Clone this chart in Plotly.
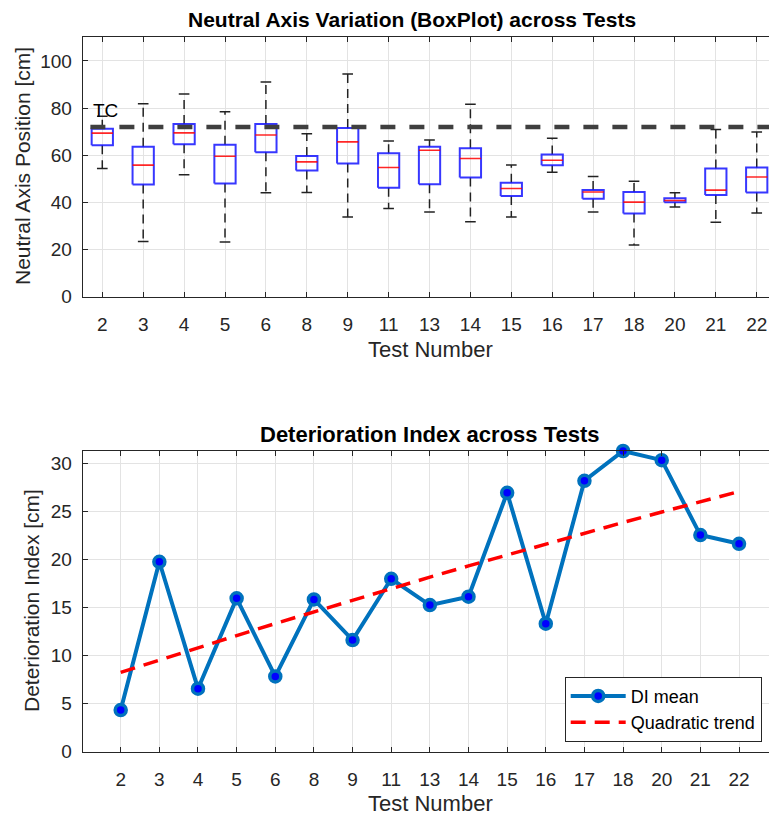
import plotly.graph_objects as go

# ---------------- data ----------------
tests = ["2", "3", "4", "5", "6", "8", "9", "11", "13", "14", "15", "16", "17", "18", "20", "21", "22"]
positions = list(range(1, len(tests) + 1))

upper_whisker = [76.6, 81.9, 86.0, 78.5, 91.1, 69.1, 94.5, 66.1, 66.5, 81.6, 55.9, 67.2, 51.0, 49.0, 44.1, 70.9, 69.9]
q3_values = [71.3, 63.6, 73.3, 64.5, 73.3, 59.7, 71.6, 60.9, 63.6, 63.0, 48.3, 60.3, 45.3, 44.4, 41.8, 54.4, 54.8]
median_values = [69.4, 55.8, 69.5, 59.6, 68.6, 57.2, 65.7, 54.8, 62.1, 58.6, 45.9, 57.9, 44.4, 40.1, 40.8, 45.2, 50.8]
q1_values = [64.3, 47.6, 64.7, 48.0, 61.3, 53.5, 56.5, 46.2, 47.7, 50.6, 42.7, 55.8, 41.5, 35.3, 40.1, 43.1, 44.2]
lower_whisker = [54.4, 23.4, 51.7, 23.2, 44.1, 44.2, 33.8, 37.4, 35.9, 31.8, 33.8, 52.8, 35.9, 21.9, 38.0, 31.6, 35.5]
tc_value = 72.0

di_mean = [4.34, 19.77, 6.56, 15.96, 7.84, 15.85, 11.62, 18.0, 15.26, 16.13, 26.95, 13.32, 28.2, 31.3, 30.35, 22.55, 21.64]
trend_values = [8.25, 9.55, 10.83, 12.09, 13.34, 14.57, 15.79, 16.99, 18.17, 19.34, 20.49, 21.63, 22.75, 23.86, 24.95, 26.02, 27.08]

# ---------------- style ----------------
W, H = 769, 817
FONT = "Liberation Sans, Arial, sans-serif"
AX = "#262626"
GRID = "#e3e3e3"
box_half = 0.26
cap_half = 0.13

fig = go.Figure()

# ---- top: box plot pieces ----
bx, by = [], []
mx, my = [], []
wx, wy = [], []
cx, cy = [], []
for p, lo, a, m, b, hi in zip(positions, lower_whisker, q1_values, median_values, q3_values, upper_whisker):
    bx += [p - box_half, p + box_half, p + box_half, p - box_half, p - box_half, None]
    by += [a, a, b, b, a, None]
    mx += [p - box_half, p + box_half, None]
    my += [m, m, None]
    wx += [p, p, None, p, p, None]
    wy += [b, hi, None, a, lo, None]
    cx += [p - cap_half, p + cap_half, None, p - cap_half, p + cap_half, None]
    cy += [hi, hi, None, lo, lo, None]

fig.add_trace(go.Scatter(x=wx, y=wy, mode="lines", line=dict(color="#222222", width=1.5, dash="9px,6px"),
                         showlegend=False, xaxis="x", yaxis="y", hoverinfo="skip"))
fig.add_trace(go.Scatter(x=cx, y=cy, mode="lines", line=dict(color="#222222", width=1.5),
                         showlegend=False, xaxis="x", yaxis="y", hoverinfo="skip"))
fig.add_trace(go.Scatter(x=bx, y=by, mode="lines", line=dict(color="rgba(20,20,255,0.85)", width=2),
                         showlegend=False, xaxis="x", yaxis="y", hoverinfo="skip"))
fig.add_trace(go.Scatter(x=mx, y=my, mode="lines", line=dict(color="rgba(255,0,0,0.85)", width=1.6),
                         showlegend=False, xaxis="x", yaxis="y", hoverinfo="skip"))
# TC reference line
fig.add_trace(go.Scatter(x=[0.0, 18.0], y=[tc_value, tc_value], mode="lines",
                         line=dict(color="#3f3f3f", width=4.5, dash="15px,14px"),
                         showlegend=False, xaxis="x", yaxis="y", hoverinfo="skip"))

# ---- bottom: DI ----
fig.add_trace(go.Scatter(x=positions, y=di_mean, mode="lines+markers", name="DI mean",
                         line=dict(color="#0072BD", width=4),
                         marker=dict(symbol="circle", size=11, color="#0000FF",
                                     line=dict(color="#0072BD", width=3.5)),
                         cliponaxis=False, xaxis="x2", yaxis="y2"))
fig.add_trace(go.Scatter(x=positions, y=trend_values, mode="lines", name="Quadratic trend",
                         line=dict(color="#FF0000", width=3.5, dash="15px,9px"),
                         xaxis="x2", yaxis="y2"))

# ---------------- axes geometry (pixels) ----------------
def px_x(v):
    return v / W

def px_y(v):
    return 1 - v / H

top_dom_y = [px_y(296.7), px_y(37.4)]
bot_dom_y = [px_y(751.7), px_y(451.0)]
dom_x = [px_x(82.7), 1.0]

tickfont = dict(family=FONT, size=19, color=AX)
common_x = dict(tickmode="array", tickvals=positions, ticktext=tests, ticks="inside", ticklen=5,
                tickcolor=AX, showgrid=True, gridcolor=GRID, gridwidth=1, showline=True,
                linecolor=AX, linewidth=1, mirror="ticks", zeroline=False, tickfont=tickfont,
                automargin=False, ticklabelstandoff=10)
common_y = dict(ticks="inside", ticklen=5, tickcolor=AX, showgrid=True, gridcolor=GRID, gridwidth=1,
                showline=True, linecolor=AX, linewidth=1, mirror=False, zeroline=False,
                tickfont=tickfont, automargin=False, ticklabelstandoff=6)

fig.update_layout(
    width=W, height=H,
    margin=dict(l=0, r=0, t=0, b=0),
    paper_bgcolor="white", plot_bgcolor="white",
    font=dict(family=FONT, color=AX),
    xaxis=dict(domain=dom_x, range=[0.521, 17.30], anchor="y", **common_x),
    yaxis=dict(domain=top_dom_y, range=[0, 110], tickvals=[0, 20, 40, 60, 80, 100], anchor="x", **common_y),
    xaxis2=dict(domain=dom_x, range=[0.0166, 17.776], anchor="y2", **common_x),
    yaxis2=dict(domain=bot_dom_y, range=[0, max(di_mean)], tickvals=[0, 5, 10, 15, 20, 25, 30],
                anchor="x2", **common_y),
    showlegend=True,
    legend=dict(x=px_x(761.7), xanchor="right", y=px_y(741.7), yanchor="bottom",
                bgcolor="white", bordercolor=AX, borderwidth=1,
                font=dict(family=FONT, size=18, color="#000000"), itemwidth=55,
                tracegroupgap=0),
)

ann = []
ann.append(dict(text="<b>Neutral Axis Variation (BoxPlot) across Tests</b>", x=px_x(411.7), y=px_y(20),
                xref="paper", yref="paper", xanchor="center", yanchor="middle", showarrow=False,
                font=dict(family=FONT, size=21, color="#000000")))
ann.append(dict(text="<b>Deterioration Index across Tests</b>", x=px_x(430), y=px_y(434),
                xref="paper", yref="paper", xanchor="center", yanchor="middle", showarrow=False,
                font=dict(family=FONT, size=22, color="#000000")))
ann.append(dict(text="Test Number", x=px_x(430), y=px_y(349), xref="paper", yref="paper",
                xanchor="center", yanchor="middle", showarrow=False,
                font=dict(family=FONT, size=22, color=AX)))
ann.append(dict(text="Test Number", x=px_x(430), y=px_y(803), xref="paper", yref="paper",
                xanchor="center", yanchor="middle", showarrow=False,
                font=dict(family=FONT, size=22, color=AX)))
ann.append(dict(text="Neutral Axis Position [cm]", x=px_x(22), y=px_y(166), xref="paper", yref="paper",
                xanchor="center", yanchor="middle", showarrow=False, textangle=-90,
                font=dict(family=FONT, size=21, color=AX)))
ann.append(dict(text="Deterioration Index [cm]", x=px_x(31), y=px_y(601), xref="paper", yref="paper",
                xanchor="center", yanchor="middle", showarrow=False, textangle=-90,
                font=dict(family=FONT, size=21, color=AX)))
ann.append(dict(text="TC", x=px_x(90.5), y=px_y(110), xref="paper", yref="paper",
                xanchor="left", yanchor="middle", showarrow=False,
                font=dict(family=FONT, size=19, color="#000000")))
fig.update_layout(annotations=ann)

fig.write_html("out.html")
